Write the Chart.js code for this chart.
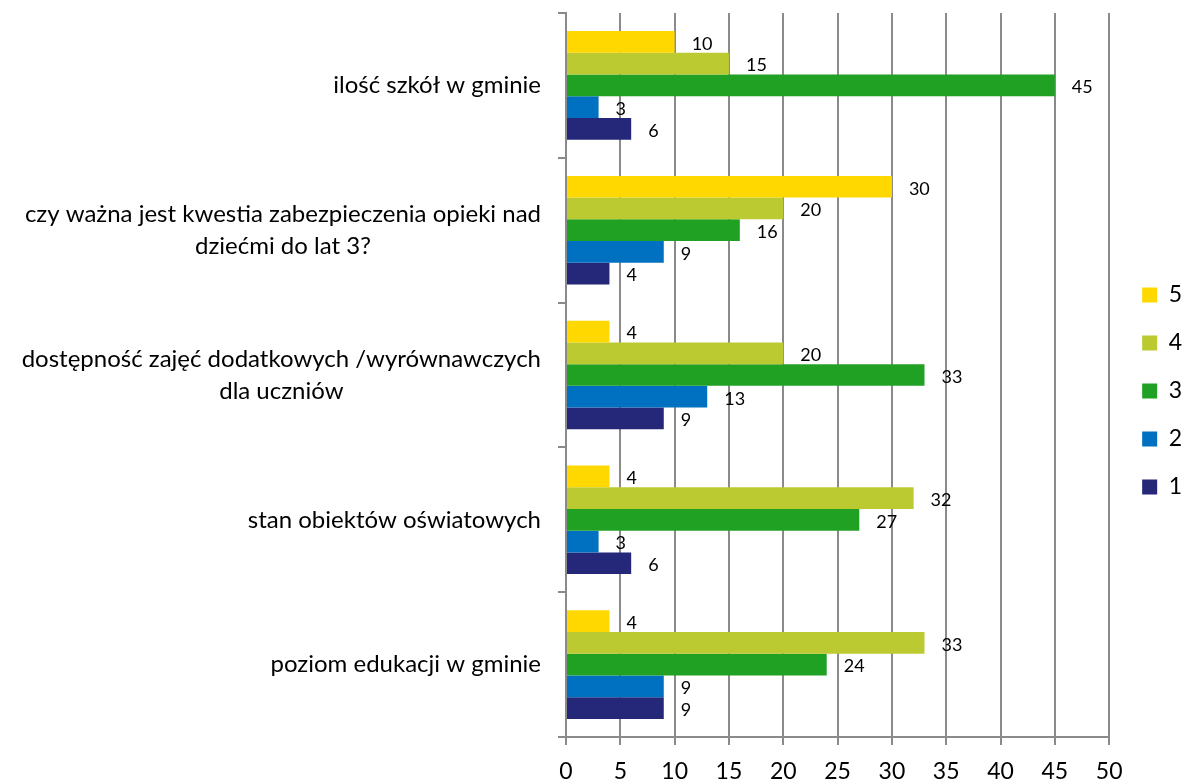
<!DOCTYPE html>
<html>
<head>
<meta charset="utf-8">
<script src="https://cdn.jsdelivr.net/npm/chart.js@4"></script>
<style>
  html, body { margin: 0; padding: 0; background: #fff; }
  #wrap { width: 1184px; height: 781px; position: relative; }
</style>
</head>
<body>
<div id="wrap"><canvas id="c"></canvas></div>
<script>
const categories = [
    'ilość szkół w gminie',
    ['czy ważna jest kwestia zabezpieczenia opieki nad', 'dziećmi do lat 3?'],
    ['dostępność zajęć dodatkowych /wyrównawczych', 'dla uczniów'],
    'stan obiektów oświatowych',
    'poziom edukacji w gminie'
];
const seriesNames = ['5', '4', '3', '2', '1'];
const values5 = [10, 30, 4, 4, 4];
const values4 = [15, 20, 20, 32, 33];
const values3 = [45, 16, 33, 27, 24];
const values2 = [3, 9, 13, 3, 9];
const values1 = [6, 4, 9, 6, 9];
const xTicks = [0, 5, 10, 15, 20, 25, 30, 35, 40, 45, 50];

const colors = ['#FFD800', '#BBCA31', '#21A124', '#0070C0', '#252778'];
const FONT = 'Lato';
const grid = '#8a8a8a';

// category labels: right-aligned block, lines centred inside it (like Excel)
const yLabels = {
    id: 'yLabels',
    afterDraw(chart) {
        const { ctx } = chart;
        const y = chart.scales.y;
        const right = y.left - 17;
        ctx.save();
        ctx.font = `24px ${FONT}`;
        ctx.fillStyle = '#000';
        ctx.textAlign = 'center';
        ctx.textBaseline = 'middle';
        categories.forEach((lab, i) => {
            const lines = Array.isArray(lab) ? lab : [lab];
            const w = Math.max(...lines.map(l => ctx.measureText(l).width));
            const cy = y.getPixelForTick(i);
            lines.forEach((l, j) => {
                ctx.fillText(l, right - w / 2, cy + (j - (lines.length - 1) / 2) * 32);
            });
        });
        ctx.restore();
    }
};

// value labels at the end of each bar
const valueLabels = {
    id: 'valueLabels',
    afterDatasetsDraw(chart) {
        const { ctx } = chart;
        ctx.save();
        ctx.font = `18px ${FONT}`;
        ctx.fillStyle = '#000';
        ctx.textAlign = 'left';
        ctx.textBaseline = 'middle';
        chart.data.datasets.forEach((ds, di) => {
            chart.getDatasetMeta(di).data.forEach((bar, i) => {
                ctx.fillText(ds.data[i], bar.x + 17, bar.y + 2);
            });
        });
        ctx.restore();
    }
};

// nudge legend to the right / up, away from the plot
const legendShift = {
    id: 'legendShift',
    afterLayout(chart) {
        const lg = chart.legend;
        lg.left += 8; lg.right += 8;
        lg.top -= 6; lg.bottom -= 6;
    }
};

const series = [values5, values4, values3, values2, values1];

new Chart(document.getElementById('c'), {
    type: 'bar',
    data: {
        labels: categories,
        datasets: series.map((data, i) => ({
            label: seriesNames[i],
            data,
            backgroundColor: colors[i],
            borderWidth: 0,
            categoryPercentage: 0.75,
            barPercentage: 1.0
        }))
    },
    options: {
        indexAxis: 'y',
        responsive: true,
        maintainAspectRatio: false,
        animation: false,
        layout: {
            padding: { left: 558, top: 13, right: 0, bottom: 0 }
        },
        plugins: {
            legend: {
                position: 'right',
                labels: {
                    boxWidth: 15,
                    boxHeight: 15,
                    padding: 25,
                    color: '#000',
                    font: { family: FONT, size: 23 }
                }
            },
            tooltip: { enabled: false }
        },
        scales: {
            x: {
                position: 'bottom',
                min: 0,
                max: 50,
                afterBuildTicks: (scale) => { scale.ticks = xTicks.map(v => ({ value: v })); },
                afterFit: (scale) => { scale.height = 44; },
                ticks: {
                    color: '#000',
                    padding: 13,
                    font: { family: FONT, size: 23 }
                },
                grid: {
                    color: grid,
                    lineWidth: 2,
                    tickLength: 8
                },
                border: { color: grid, width: 2 }
            },
            y: {
                ticks: { display: false },
                grid: {
                    offset: true,
                    drawOnChartArea: false,
                    color: grid,
                    lineWidth: 2,
                    tickLength: 8
                },
                border: { color: grid, width: 2 }
            }
        }
    },
    plugins: [yLabels, valueLabels, legendShift]
});
</script>
</body>
</html>
